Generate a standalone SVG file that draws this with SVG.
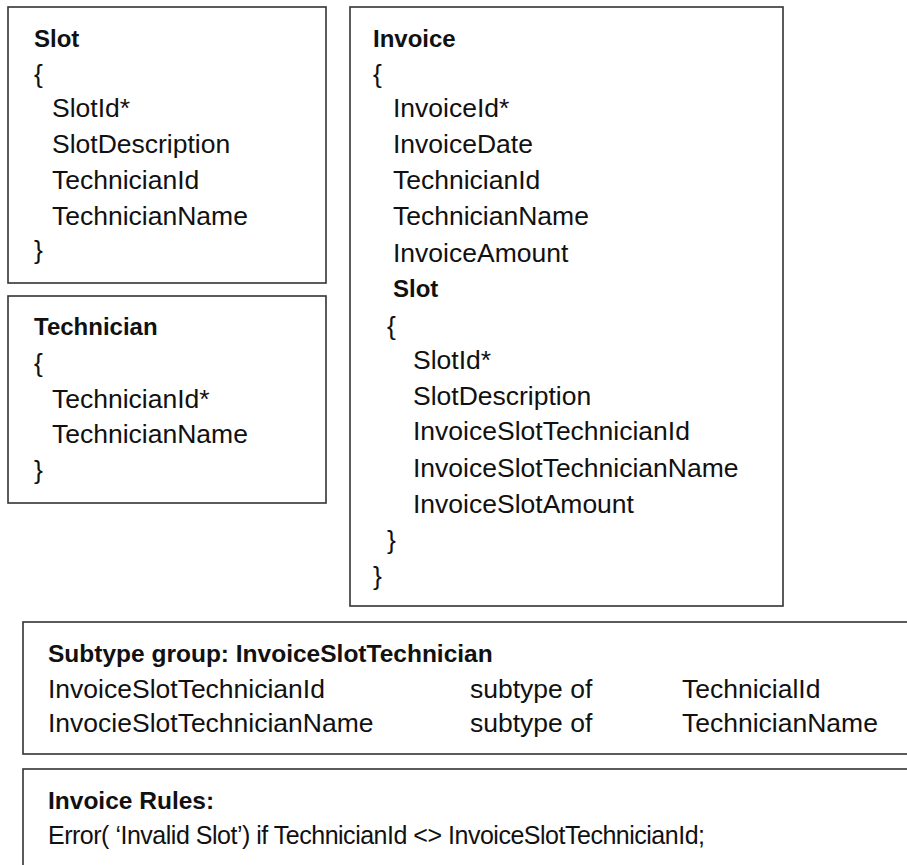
<svg xmlns="http://www.w3.org/2000/svg" width="907" height="865" viewBox="0 0 907 865">
<style>
.box{fill:#fff;stroke:#333;stroke-width:1.6}
text{font-family:"Liberation Sans",Arial,sans-serif;font-size:26.5px;fill:#111}
.b{font-weight:bold;font-size:24px}
.bb{font-weight:bold;font-size:24.5px}
</style>
<rect width="907" height="865" fill="#fff"/>
<g id="connectors"/>
<g id="slot">
<rect class="box" x="8" y="7" width="318" height="276"/>
<text class="b" x="34" y="47">Slot</text>
<text x="34" y="83">{</text>
<text x="52" y="117">SlotId*</text>
<text x="52" y="153">SlotDescription</text>
<text x="52" y="189">TechnicianId</text>
<text x="52" y="225">TechnicianName</text>
<text x="34" y="259">}</text>
</g>
<g id="technician">
<rect class="box" x="8" y="296" width="318" height="207"/>
<text class="b" x="34" y="335">Technician</text>
<text x="34" y="372">{</text>
<text x="52" y="408">TechnicianId*</text>
<text x="52" y="443">TechnicianName</text>
<text x="34" y="479">}</text>
</g>
<g id="invoice">
<rect class="box" x="350" y="7" width="433" height="599"/>
<text class="b" x="373" y="47">Invoice</text>
<text x="373" y="83">{</text>
<text x="393" y="117">InvoiceId*</text>
<text x="393" y="153">InvoiceDate</text>
<text x="393" y="189">TechnicianId</text>
<text x="393" y="225">TechnicianName</text>
<text x="393" y="262">InvoiceAmount</text>
<text class="b" x="393" y="297">Slot</text>
<text x="387" y="335">{</text>
<text x="413" y="369">SlotId*</text>
<text x="413" y="405">SlotDescription</text>
<text x="413" y="440">InvoiceSlotTechnicianId</text>
<text x="413" y="477">InvoiceSlotTechnicianName</text>
<text x="413" y="513">InvoiceSlotAmount</text>
<text x="387" y="549">}</text>
<text x="373" y="585">}</text>
</g>
<g id="subtype-group">
<rect class="box" x="23" y="622" width="900" height="132"/>
<text class="bb" x="48" y="662">Subtype group: InvoiceSlotTechnician</text>
<text x="48" y="698">InvoiceSlotTechnicianId</text>
<text x="470" y="698">subtype of</text>
<text x="682" y="698">TechnicialId</text>
<text x="48" y="732">InvocieSlotTechnicianName</text>
<text x="470" y="732">subtype of</text>
<text x="682" y="732">TechnicianName</text>
</g>
<g id="invoice-rules">
<rect class="box" x="23" y="769" width="900" height="120"/>
<text class="bb" x="48" y="809">Invoice Rules:</text>
<text x="48" y="844" style="font-size:25px" textLength="657" lengthAdjust="spacing">Error( ‘Invalid Slot’) if TechnicianId &lt;&gt; InvoiceSlotTechnicianId;</text>
</g>
</svg>
